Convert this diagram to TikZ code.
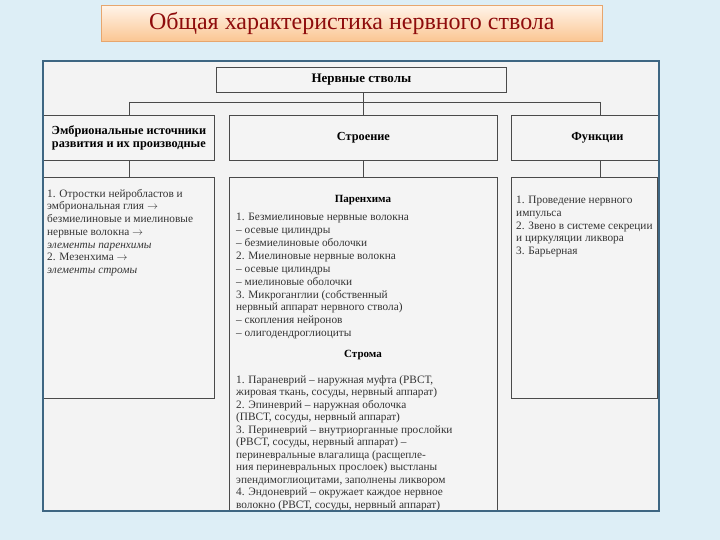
\documentclass[tikz,border=0pt]{standalone}
\usepackage{fontspec}
\setmainfont{Liberation Serif}
\definecolor{bg}{HTML}{DDEEF6}
\definecolor{framefill}{HTML}{F3F3F3}
\definecolor{framedraw}{HTML}{3E6682}
\definecolor{boxline}{HTML}{4A4A4A}
\definecolor{boxfill}{HTML}{F4F4F4}
\definecolor{bodytext}{HTML}{333333}
\definecolor{titletext}{HTML}{8E0C0C}
\definecolor{titletop}{HTML}{FFF4EA}
\definecolor{titlebot}{HTML}{FBC692}
\definecolor{titledraw}{HTML}{E7A66E}
\begin{document}
\begin{tikzpicture}[x=1pt,y=-1pt,
  box/.style={draw=boxline, line width=0.8pt, fill=boxfill, inner sep=0pt, anchor=north west},
  hdr/.style={font=\bfseries\fontsize{12.3}{13.5}\selectfont, align=center, inner sep=0pt},
  sub/.style={font=\bfseries\fontsize{11}{12}\selectfont, inner sep=0pt},
  body/.style={font=\fontsize{11.3}{12.7}\selectfont, align=left, anchor=north west, inner sep=0pt, text=bodytext},
  conn/.style={draw=boxline, line width=0.8pt}]
\fill[bg] (0,0) rectangle (720,540);
\useasboundingbox (0,0) rectangle (720,540);
% title
\node[draw=titledraw, line width=0.6pt, top color=titletop, bottom color=titlebot,
  minimum width=501pt, minimum height=36pt, anchor=north west, inner sep=0pt,
  font=\fontsize{24}{26}\selectfont, text=titletext] (title) at (101,5) {Общая характеристика нервного ствола};
% frame background
\node[fill=framefill, minimum width=616pt, minimum height=450pt, anchor=north west, inner sep=0pt] (frame) at (43,61) {};
% header boxes
\node[box, minimum width=290pt, minimum height=25pt] (top) at (216,67) {};
\node[hdr, font=\bfseries\fontsize{13}{14}\selectfont] (toptxt) at (top.center) {Нервные стволы};
\node[box, minimum width=171pt, minimum height=45pt] (emb) at (43,115) {};
\node[hdr] (embtxt) at (emb.center) {Эмбриональные источники\\развития и их производные};
\node[box, minimum width=268pt, minimum height=45pt] (str) at (229,115) {};
\node[hdr] (strtxt) at (str.center) {Строение};
\node[box, minimum width=148pt, minimum height=45pt] (fun) at (511,115) {};
\node[hdr] (funtxt) at ([xshift=12pt]fun.center) {Функции};
% lower boxes
\node[box, minimum width=171pt, minimum height=221pt] (embL) at (43,177) {};
\node[box, minimum width=268pt, minimum height=334pt] (strL) at (229,177) {};
\node[box, minimum width=146pt, minimum height=221pt] (funL) at (511,177) {};
% connectors
\coordinate (hl) at (129,102);
\coordinate (hr) at (600,102);
\draw[conn] (top.south -| str.north) -- (str.north);
\draw[conn] (hl) -- (hr);
\draw[conn] (hl) -- (hl |- emb.north);
\draw[conn] (hr) -- (hr |- fun.north);
\draw[conn] (emb.south) -- (embL.north);
\draw[conn] (str.south) -- (strL.north);
\draw[conn] (hr |- fun.south) -- (hr |- funL.north);
% left text
\node[body] (embtext) at (47,189) {1. Отростки нейробластов и\\
эмбриональная глия $\to$\\
безмиелиновые и миелиновые\\
нервные волокна $\to$\\
\itshape элементы паренхимы\\
2. Мезенхима $\to$\\
\itshape элементы стромы};
% centre text
\node[sub] (par) at (363,200) {Паренхима};
\node[body, font=\fontsize{11.3}{12.9}\selectfont] (partext) at (236,213) {1. Безмиелиновые нервные волокна\\
– осевые цилиндры\\
– безмиелиновые оболочки\\
2. Миелиновые нервные волокна\\
– осевые цилиндры\\
– миелиновые оболочки\\
3. Микроганглии (собственный\\
нервный аппарат нервного ствола)\\
– скопления нейронов\\
– олигодендроглиоциты};
\node[sub] (strom) at (363,355) {Строма};
\node[body, font=\fontsize{11.3}{12.5}\selectfont] (stromtext) at (236,375) {1. Параневрий – наружная муфта (РВСТ,\\
жировая ткань, сосуды, нервный аппарат)\\
2. Эпиневрий – наружная оболочка\\
(ПВСТ, сосуды, нервный аппарат)\\
3. Периневрий – внутриорганные прослойки\\
(РВСТ, сосуды, нервный аппарат) –\\
периневральные влагалища (расщепле-\\
ния периневральных прослоек) выстланы\\
эпендимоглиоцитами, заполнены ликвором\\
4. Эндоневрий – окружает каждое нервное\\
волокно (РВСТ, сосуды, нервный аппарат)};
% right text
\node[body] (funtext) at (516,196) {1. Проведение нервного\\
импульса\\
2. Звено в системе секреции\\
и циркуляции ликвора\\
3. Барьерная};
% frame border
\draw[framedraw, line width=2pt] (frame.north west) rectangle (frame.south east);
\end{tikzpicture}
\end{document}
